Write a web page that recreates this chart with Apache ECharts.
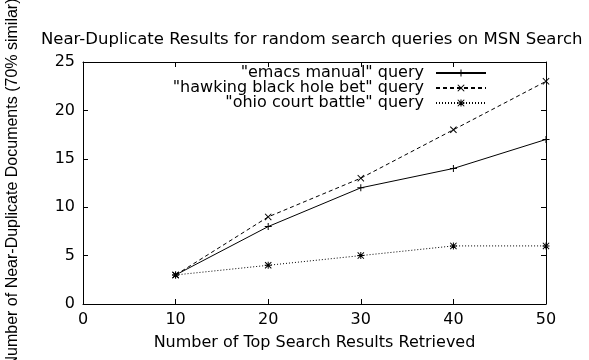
<!DOCTYPE html>
<html>
<head>
<meta charset="utf-8">
<script src="https://cdn.jsdelivr.net/npm/echarts@6/dist/echarts.min.js"></script>
<style>html,body{margin:0;padding:0;background:#fff}#c{width:589px;height:360px}</style>
</head>
<body>
<div id="c"></div>
<script>
const xValues = [10, 20, 30, 40, 50];
const seriesNames = ['"emacs manual" query', '"hawking black hole bet" query', '"ohio court battle" query'];
const emacsValues = [3, 8, 12, 14, 17];
const hawkingValues = [3, 9, 13, 18, 23];
const ohioValues = [3, 4, 5, 6, 6];
const titleText = 'Near-Duplicate Results for random search queries on MSN Search';
const xAxisTitle = 'Number of Top Search Results Retrieved';
const yAxisTitle = 'Number of Near-Duplicate Documents (70% similar)';

const FONT = 'DejaVu Sans';
const plusPath = 'path://M4.3,0H5.7V4.3H10V5.7H5.7V10H4.3V5.7H0V4.3H4.3Z';
const crossPath = 'path://M0,1L1,0L5,4L9,0L10,1L6,5L10,9L9,10L5,6L1,10L0,9L4,5Z';
const starPath = 'path://M4.3,0H5.7V4.3H10V5.7H5.7V10H4.3V5.7H0V4.3H4.3Z M0,1L1,0L5,4L9,0L10,1L6,5L10,9L9,10L5,6L1,10L0,9L4,5Z';

const seriesValues = [emacsValues, hawkingValues, ohioValues];
const symbols = [plusPath, crossPath, starPath];
const dashes = ['solid', [4, 3], [1, 2]];

const chart = echarts.init(document.getElementById('c'), null, {renderer: 'canvas'});

const tickStyle = {show: true, inside: true, length: 5, lineStyle: {color: '#000', width: 1}};
const lineStyleAxis = {show: true, onZero: false, lineStyle: {color: '#000', width: 1}};

const option = {
  animation: false,
  backgroundColor: '#fff',
  title: {
    text: titleText,
    left: 41, top: 31, padding: 0,
    textStyle: {fontFamily: FONT, fontSize: 16.5, fontWeight: 'normal', color: '#000'}
  },
  grid: {left: 83, right: 43, top: 62, bottom: 56, containLabel: false, outerBoundsMode: 'none'},
  legend: seriesNames.map((n, i) => ({
    data: [n],
    orient: 'vertical',
    align: 'right',
    right: 102,
    top: 65 + i * 15,
    padding: 0,
    itemWidth: 50,
    itemHeight: 9,
    selectedMode: false,
    textStyle: {fontFamily: FONT, fontSize: 16, color: '#000', lineHeight: 16, padding: [0, 7, 0, 0]}
  })),
  xAxis: [{
    type: 'value', min: 0, max: 50, interval: 10, position: 'bottom',
    name: xAxisTitle, nameLocation: 'middle', nameGap: 31,
    nameTextStyle: {fontFamily: FONT, fontSize: 16, color: '#000'},
    axisLine: lineStyleAxis, axisTick: tickStyle, splitLine: {show: false},
    axisLabel: {fontFamily: FONT, fontSize: 16, color: '#000', margin: 8}
  }, {
    type: 'value', min: 0, max: 50, interval: 10, position: 'top',
    axisLine: lineStyleAxis, axisTick: tickStyle, splitLine: {show: false},
    axisLabel: {show: false}
  }],
  yAxis: [{
    type: 'value', min: 0, max: 25, interval: 5, position: 'left',
    name: yAxisTitle, nameLocation: 'middle', nameGap: 62, nameRotate: 90,
    nameTextStyle: {fontFamily: 'Liberation Sans', fontSize: 16, color: '#000'},
    axisLine: lineStyleAxis, axisTick: tickStyle, splitLine: {show: false},
    axisLabel: {fontFamily: FONT, fontSize: 16, color: '#000', margin: 8}
  }, {
    type: 'value', min: 0, max: 25, interval: 5, position: 'right',
    axisLine: lineStyleAxis, axisTick: tickStyle, splitLine: {show: false},
    axisLabel: {show: false}
  }],
  series: seriesNames.map((n, i) => ({
    name: n,
    type: 'line',
    xAxisIndex: 0, yAxisIndex: 0,
    data: xValues.map((x, j) => [x, seriesValues[i][j]]),
    symbol: symbols[i],
    symbolSize: 7,
    showSymbol: true,
    lineStyle: {color: '#000', width: 1, type: dashes[i]},
    itemStyle: {color: '#000'},
    emphasis: {disabled: true}
  }))
};
chart.setOption(option);
</script>
</body>
</html>
